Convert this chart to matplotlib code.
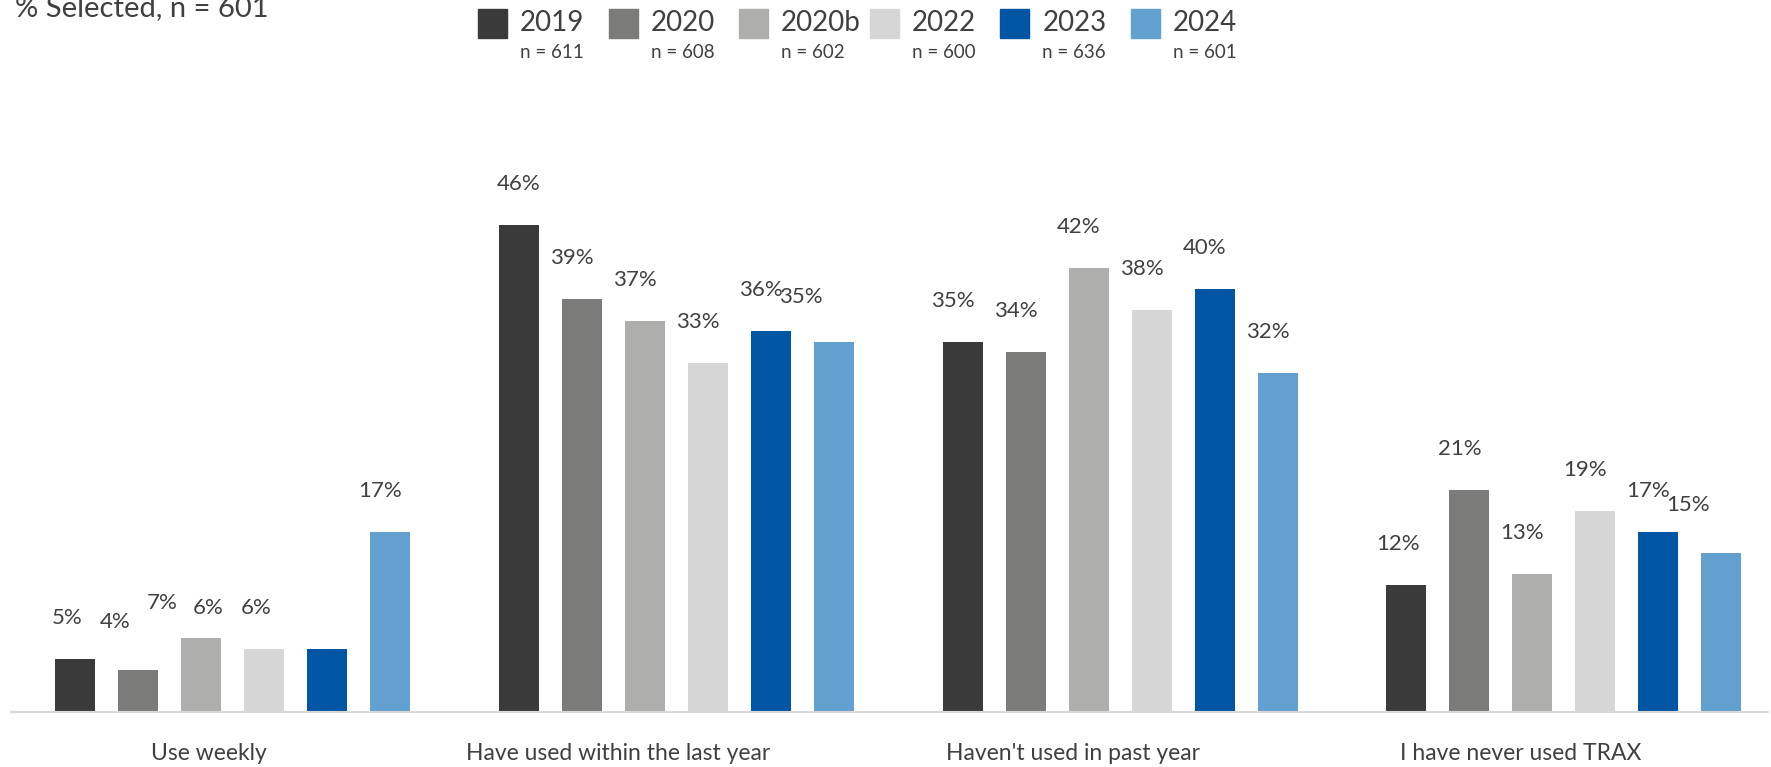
import matplotlib
matplotlib.use('Agg')
import matplotlib.pyplot as plt
from matplotlib.patches import Rectangle

# Datos de la encuesta (% seleccionado)
categorias = ['Use weekly', 'Have used within the last year',
              "Haven't used in past year", 'I have never used TRAX']
anios = ['2019', '2020', '2020b', '2022', '2023', '2024']
muestras = ['n = 611', 'n = 608', 'n = 602', 'n = 600', 'n = 636', 'n = 601']

v2019 = [5, 46, 35, 12]
v2020 = [4, 39, 34, 21]
v2020b = [7, 37, 42, 13]
v2022 = [6, 33, 38, 19]
v2023 = [6, 36, 40, 17]
v2024 = [17, 35, 32, 15]
series = [v2019, v2020, v2020b, v2022, v2023, v2024]

colores = ['#3a3a3a', '#7b7c7a', '#aeafad', '#d6d6d6', '#0055a4', '#62a0cf']
texto = '#404040'
fuente = 'Lato'

W, H = 1771, 767
fig = plt.figure(figsize=(W / 100, H / 100), dpi=100)

# Eje: base en y=712 px, 443.7 px por grupo, 10.58 px por punto porcentual
x0, x1, base = 11, 1768, 712
ppg, ppp = 443.7, 10.58
ymax = 50
ax = fig.add_axes([x0 / W, (H - base) / H, (x1 - x0) / W, ymax * ppp / H])
ax.set_xlim(-0.5, -0.5 + (x1 - x0) / ppg)
ax.set_ylim(0, ymax)

paso = 63 / ppg
ancho = 40 / ppg

# Ajustes manuales de las etiquetas que se solapan (px)
ajustes = {(0, 0): (2, 0), (0, 1): (-13, 7), (0, 2): (-29, -6),
           (0, 3): (-46, 0), (0, 4): (-61, 0), (1, 0): (10, 0),
           (1, 5): (-23, 4), (3, 0): (2, 0), (3, 5): (-23, 7)}

for j, (vals, col) in enumerate(zip(series, colores)):
    xs = [i + (j - 2.5) * paso for i in range(len(categorias))]
    ax.bar(xs, vals, width=ancho, color=col, zorder=2)
    for i, (x, v) in enumerate(zip(xs, vals)):
        dx, dy = ajustes.get((i, j), (0, 0))
        ax.annotate(f'{v}%', xy=(x, v), xytext=(-10 + dx, 41 + dy),
                    textcoords='offset pixels', ha='center', va='center',
                    fontsize=16, color=texto, family=fuente)

# Etiquetas de categoría
desplaz = [-24, -58, -47, -43]
for i, (cat, d) in enumerate(zip(categorias, desplaz)):
    ax.annotate(cat, xy=(i, 0), xytext=(d, -41), textcoords='offset pixels',
                ha='center', va='center', fontsize=16.5, color=texto,
                family=fuente, annotation_clip=False)

for s in ['top', 'right', 'left']:
    ax.spines[s].set_visible(False)
ax.spines['bottom'].set_color('#d9d9d9')
ax.spines['bottom'].set_linewidth(1.5)
ax.spines['bottom'].set_zorder(3)
ax.set_xticks([])
ax.set_yticks([])

# Leyenda con tamaño de muestra
for k, (a, n, col) in enumerate(zip(anios, muestras, colores)):
    xl = 478 + 130.6 * k
    fig.patches.append(Rectangle((xl / W, (H - 38) / H), 29 / W, 29 / H,
                                 transform=fig.transFigure, color=col))
    fig.text((xl + 42) / W, (H - 23) / H, a, ha='left', va='center',
             fontsize=20, color=texto, family=fuente)
    fig.text((xl + 42) / W, (H - 53) / H, n, ha='left', va='center',
             fontsize=13.5, color=texto, family=fuente)

fig.text(15 / W, (H - 16) / H, '% Selected, n = 601', ha='left',
         va='baseline', fontsize=21, color=texto, family=fuente)

plt.savefig('out.png', dpi=100)
